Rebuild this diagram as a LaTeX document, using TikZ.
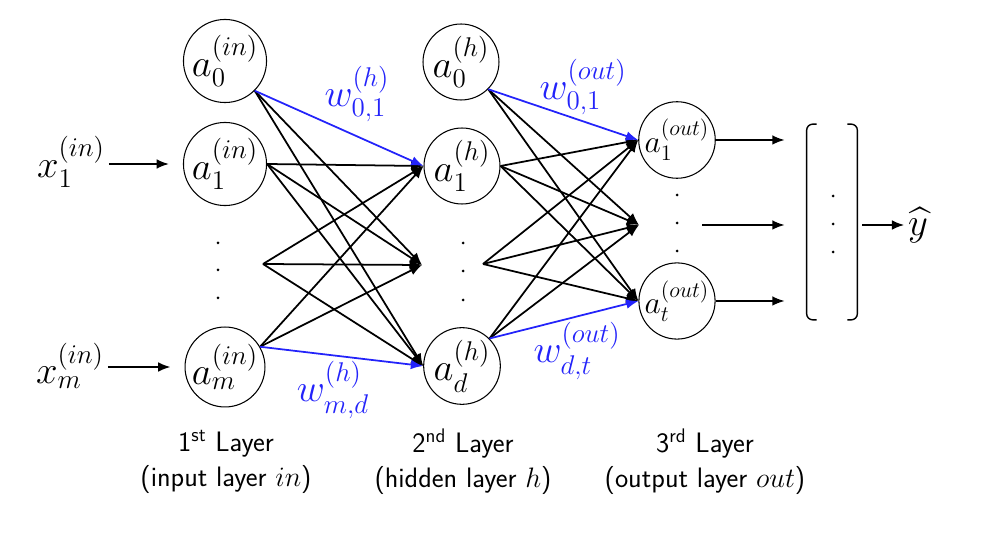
\RequirePackage{fix-cm}
\documentclass[tikz,border=0pt]{standalone}
\usepackage{amsmath, amssymb}
\usepackage{tikz}
\usepackage{xcolor}
\usetikzlibrary{
	arrows.meta,
	positioning
}
\definecolor{wblue}{RGB}{35,35,250}

\begin{document}
\begin{tikzpicture}[
            x=0.02cm, y=-0.02cm,
            neuron/.style={
                draw,
                circle,
                line width=0.6pt,
                minimum size=1.52cm,
                inner sep=0pt,
                font=\fontsize{22}{26}\selectfont
            },
            outneuron/.style={neuron,font=\fontsize{18}{22}\selectfont},
            lbl/.style={inner sep=2pt,font=\fontsize{22}{26}\selectfont},
            wlbl/.style={lbl,text=wblue},
            layer/.style={align=center,font=\fontsize{16}{20}\selectfont\sffamily},
            arr/.style={-{Latex[length=7pt,width=5.5pt]},line width=1pt},
            warr/.style={arr,draw=wblue}
        ]
            \useasboundingbox (0,0) rectangle (981,540);

            \node[neuron] (i0) at (225,61) {$a_0^{(in)}$};
            \node[neuron] (i1) at (225,164) {$a_1^{(in)}$};
            \node[neuron] (im) at (225,367) {$a_m^{(in)}$};
            \coordinate (imid) at (263,264);

            \node[neuron] (h0) at (461,62) {$a_0^{(h)}$};
            \node[neuron] (h1) at (462,166) {$a_1^{(h)}$};
            \node[neuron] (hd) at (462,366) {$a_d^{(h)}$};
            \coordinate (hmidin) at (422,265);
            \coordinate (hmid) at (483,264);

            \node[outneuron] (o1) at (677,140) {$a_1^{(out)}$};
            \node[outneuron] (ot) at (677,301) {$a_t^{(out)}$};
            \coordinate (omidin) at (639,225);
            \coordinate (omid) at (702,225);

            \node[minimum width=1cm,minimum height=3.9cm] (vec) at (832,222) {};
            \node[lbl] (yhat) at (918,225) {$\widehat{y}$};

            \node[lbl] (x1) at (71,162) {$x_1^{(in)}$};
            \node[lbl] (xm) at (70,366) {$x_m^{(in)}$};

            % vertical dots
            \foreach \y in {243,270,298} \fill (218,\y) circle (1.5);
            \foreach \y in {243,271,300} \fill (463,\y) circle (1.5);
            \foreach \y in {195,223,251} \fill (677,\y) circle (1.5);
            \foreach \y in {196,224,252} \fill (833,\y) circle (1.5);

            \draw[arr,shorten >=0.28cm] (x1.east |- i1.west) -- (i1.west);
            \draw[arr,shorten >=0.28cm] (xm.east |- im.west) -- (im.west);

            \draw (i0.-45) edge[arr] (hmidin) edge[arr] (hd.west);
            \draw (i1.east) edge[arr] (h1.west) edge[arr] (hmidin) edge[arr] (hd.west);
            \draw (imid) edge[arr] (h1.west) edge[arr] (hmidin) edge[arr] (hd.west);
            \draw (im.30) edge[arr] (h1.west) edge[arr] (hmidin);
            \draw[warr] (i0.-45) -- (h1.west);
            \draw[warr] (im.30) -- (hd.west);

            \draw (h0.-45) edge[arr] (omidin) edge[arr] (ot.west);
            \draw (h1.east) edge[arr] (o1.west) edge[arr] (omidin) edge[arr] (ot.west);
            \draw (hmid) edge[arr] (o1.west) edge[arr] (omidin) edge[arr] (ot.west);
            \draw (hd.45) edge[arr] (o1.west) edge[arr] (omidin);
            \draw[warr] (h0.-45) -- (o1.west);
            \draw[warr] (hd.45) -- (ot.west);

            \node[wlbl] (w01h) at (357,94) {$w_{0,1}^{(h)}$};
            \node[wlbl] (wmdh) at (333,390) {$w_{m,d}^{(h)}$};
            \node[wlbl] (w01o) at (583,87) {$w_{0,1}^{(out)}$};
            \node[wlbl] (wdto) at (577,351) {$w_{d,t}^{(out)}$};

            \draw[arr,shorten >=0.44cm] (o1.east) -- (o1.east -| vec.west);
            \draw[arr,shorten >=0.44cm] (omid) -- (omid -| vec.west);
            \draw[arr,shorten >=0.44cm] (ot.east) -- (ot.east -| vec.west);

            \draw[line width=0.8pt,rounded corners=0.12cm]
                ([xshift=0.2cm]vec.north west) -- (vec.north west)
                -- (vec.south west) -- ([xshift=0.2cm]vec.south west);
            \draw[line width=0.8pt,rounded corners=0.12cm]
                ([xshift=-0.2cm]vec.north east) -- (vec.north east)
                -- (vec.south east) -- ([xshift=-0.2cm]vec.south east);
            \draw[arr,shorten <=0.1cm] (vec.east |- yhat.west) -- (yhat.west);

            \node[layer] (l1) at (226,462) {1\textsuperscript{st} Layer\\(input layer $in$)};
            \node[layer] (l2) at (463,462) {2\textsuperscript{nd} Layer\\(hidden layer $h$)};
            \node[layer] (l3) at (705,462) {3\textsuperscript{rd} Layer\\(output layer $out$)};
        \end{tikzpicture}
\end{document}
